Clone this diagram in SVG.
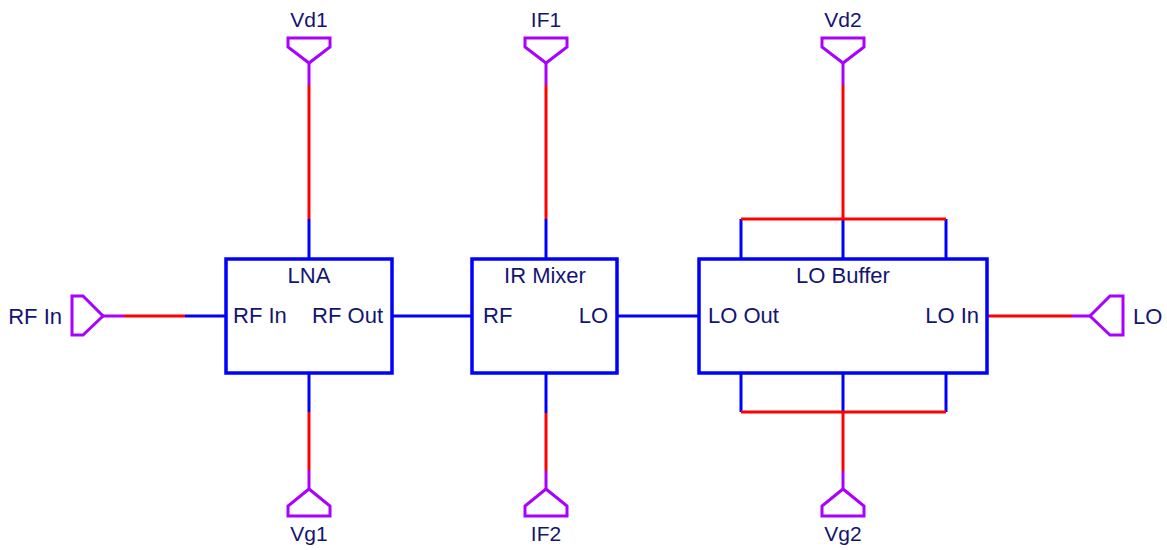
<svg xmlns="http://www.w3.org/2000/svg" width="1167" height="550" viewBox="0 0 1167 550">
<style>
.b{stroke:#0000ff;stroke-width:3;fill:none}
.r{stroke:#ff0000;stroke-width:3;fill:none}
.p{stroke:#aa00ff;stroke-width:3;fill:none}
.box{stroke:#0000ff;stroke-width:3.5;fill:#ffffff}
.port{stroke:#aa00ff;stroke-width:3;fill:#ffffff;stroke-linejoin:miter}
text{font-family:"Liberation Sans",Arial,sans-serif;font-size:22px;fill:#141472}
.s{font-size:21px}
.m{text-anchor:middle}
.e{text-anchor:end}
</style>
<rect width="1167" height="550" fill="#ffffff"/>
<g id="connectors">
<line class="p" x1="309" y1="63" x2="309" y2="85"/>
<line class="r" x1="309" y1="85" x2="309" y2="219"/>
<line class="b" x1="309" y1="219" x2="309" y2="259"/>
<line class="b" x1="309" y1="373" x2="309" y2="412"/>
<line class="r" x1="309" y1="412" x2="309" y2="470"/>
<line class="p" x1="309" y1="470" x2="309" y2="489"/>
<line class="p" x1="103" y1="316" x2="124" y2="316"/>
<line class="r" x1="124" y1="316" x2="185" y2="316"/>
<line class="b" x1="185" y1="316" x2="226" y2="316"/>
<line class="b" x1="392" y1="316" x2="472" y2="316"/>
<line class="p" x1="546" y1="63" x2="546" y2="85"/>
<line class="r" x1="546" y1="85" x2="546" y2="219"/>
<line class="b" x1="546" y1="219" x2="546" y2="259"/>
<line class="b" x1="546" y1="373" x2="546" y2="413"/>
<line class="r" x1="546" y1="413" x2="546" y2="471"/>
<line class="p" x1="546" y1="471" x2="546" y2="489"/>
<line class="b" x1="617" y1="316" x2="699" y2="316"/>
<line class="p" x1="843" y1="63" x2="843" y2="85"/>
<line class="r" x1="843" y1="85" x2="843" y2="219"/>
<line class="b" x1="741" y1="219" x2="741" y2="259"/>
<line class="b" x1="843" y1="219" x2="843" y2="259"/>
<line class="b" x1="946" y1="219" x2="946" y2="259"/>
<line class="r" x1="741" y1="219" x2="946" y2="219"/>
<line class="b" x1="741" y1="373" x2="741" y2="412"/>
<line class="b" x1="843" y1="373" x2="843" y2="412"/>
<line class="b" x1="946" y1="373" x2="946" y2="412"/>
<line class="r" x1="741" y1="412" x2="946" y2="412"/>
<line class="r" x1="843" y1="412" x2="843" y2="471"/>
<line class="p" x1="843" y1="471" x2="843" y2="489"/>
<line class="r" x1="987" y1="316" x2="1072" y2="316"/>
<line class="p" x1="1072" y1="316" x2="1090" y2="316"/>
</g>
<g id="lna">
<rect class="box" x="226" y="259" width="166" height="114"/>
<text class="m" x="309" y="283">LNA</text>
<text x="233" y="323">RF In</text>
<text class="e" x="383" y="323">RF Out</text>
</g>
<g id="mixer">
<rect class="box" x="472" y="259" width="145" height="114"/>
<text class="m" x="545" y="283">IR Mixer</text>
<text x="483" y="323">RF</text>
<text class="e" x="608" y="323">LO</text>
</g>
<g id="lobuffer">
<rect class="box" x="699" y="259" width="288" height="114"/>
<text class="m" x="843" y="283">LO Buffer</text>
<text x="708" y="323">LO Out</text>
<text class="e" x="979" y="323">LO In</text>
</g>
<g id="port-vd1">
<polygon class="port" points="288,38 330,38 330,47 309,63 288,47"/>
<text class="m s" x="309" y="27">Vd1</text>
</g>
<g id="port-if1">
<polygon class="port" points="525,38 567,38 567,47 546,63 525,47"/>
<text class="m s" x="546" y="27">IF1</text>
</g>
<g id="port-vd2">
<polygon class="port" points="822,38 864,38 864,47 843,63 822,47"/>
<text class="m s" x="843" y="27">Vd2</text>
</g>
<g id="port-vg1">
<polygon class="port" points="309,489 330,506 330,516 288,516 288,506"/>
<text class="m s" x="309" y="541">Vg1</text>
</g>
<g id="port-if2">
<polygon class="port" points="546,489 567,506 567,516 525,516 525,506"/>
<text class="m s" x="546" y="541">IF2</text>
</g>
<g id="port-vg2">
<polygon class="port" points="843,489 864,506 864,516 822,516 822,506"/>
<text class="m s" x="843" y="541">Vg2</text>
</g>
<g id="port-rfin">
<polygon class="port" points="72,296 83,296 103,316 83,335 72,335"/>
<text class="e" x="62" y="324">RF In</text>
</g>
<g id="port-lo">
<polygon class="port" points="1123,296 1110,296 1090,316 1110,335 1123,335"/>
<text x="1133" y="324">LO</text>
</g>
</svg>
